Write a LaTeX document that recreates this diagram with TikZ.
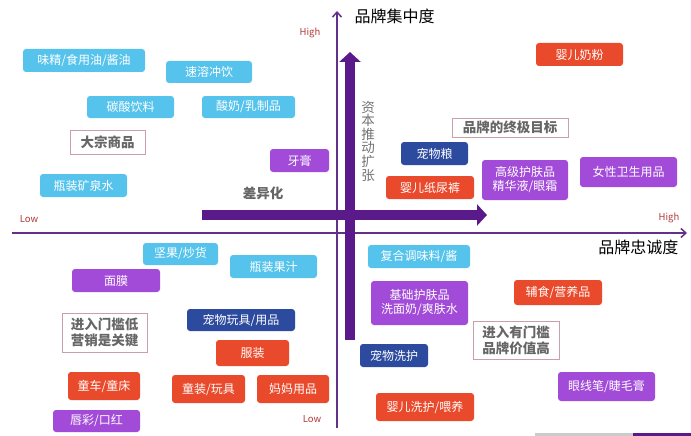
\documentclass[tikz,border=0pt]{standalone}
\usepackage{fontspec}
\setmainfont{Noto Sans CJK SC}
\usetikzlibrary{arrows.meta}
\definecolor{lb}{HTML}{56C3EC}
\definecolor{pp}{HTML}{A24BD8}
\definecolor{db}{HTML}{2C4A9E}
\definecolor{orr}{HTML}{EA4A2C}
\definecolor{axc}{HTML}{62318A}
\definecolor{thk}{HTML}{5A1A8A}
\definecolor{obox}{HTML}{C9A0A8}
\definecolor{hl}{HTML}{B03A3A}
\tikzset{
  cbox/.style={rounded corners=3pt, text=white, inner sep=0pt, align=center,
    font=\fontsize{12}{14}\selectfont},
  obx/.style={draw=obox, line width=0.8pt, inner sep=0pt, align=center, text=black!60,
    font=\fontsize{13.5}{16}\selectfont\bfseries},
  axlab/.style={font=\fontsize{16}{18}\selectfont, text=black},
  hilo/.style={font=\fontsize{9.5}{11}\selectfont, text=hl},
  thinax/.style={draw=axc, line width=1.5pt, -{Straight Barb[length=5pt,width=9pt]}},
  thickar/.style={draw=thk, line width=10pt, -{Triangle[length=10pt,width=21pt]}},
}
\begin{document}
\begin{tikzpicture}[x=1pt,y=-1pt]
\useasboundingbox (0,0) rectangle (691,436);
% axes
\coordinate (yb) at (337,428);
\coordinate (yt) at (337,11);
\coordinate (xl) at (12,233);
\coordinate (xr) at (687,233);
\draw[thinax] (yb) -- (yt);
\draw[thinax] (xl) -- (xr);
% thick arrows
\coordinate (ha) at (202,215);
\coordinate (hb) at (487,215);
\coordinate (va) at (350,340);
\coordinate (vb) at (350,52);
\draw[thickar] (ha) -- (hb);
\draw[thickar] (va) -- (vb);
% axis labels
\node[axlab, anchor=west] (ylab) at (351,16) {品牌集中度};
\node[axlab, anchor=east] (xlab) at (682,247) {品牌忠诚度};
\node[hilo] (hi1) at (310,33) {High};
\node[hilo] (lo1) at (29,219) {Low};
\node[hilo] (hi2) at (669,218) {High};
\node[hilo] (lo2) at (312,419) {Low};
\node[align=center, text=black!55, font=\fontsize{13.5}{13.6}\selectfont] (zb) at (368,141) {资\\本\\推\\动\\扩\\张};
\node[text=black!60, font=\fontsize{13.5}{16}\selectfont\bfseries] (cyh) at (263,193) {差异化};
% light blue
\node[cbox, fill=lb, minimum width=122pt, minimum height=23pt] (n1) at (84,60.5) {味精/食用油/酱油};
\node[cbox, fill=lb, minimum width=86pt, minimum height=22pt] (n2) at (209,72) {速溶冲饮};
\node[cbox, fill=lb, minimum width=87pt, minimum height=22pt] (n3) at (130.5,107) {碳酸饮料};
\node[cbox, fill=lb, minimum width=93pt, minimum height=22pt] (n4) at (248.5,107) {酸奶/乳制品};
\node[cbox, fill=lb, minimum width=87pt, minimum height=23pt] (n5) at (83.5,185.5) {瓶装矿泉水};
\node[cbox, fill=lb, minimum width=75pt, minimum height=22pt] (n6) at (180.5,254) {坚果/炒货};
\node[cbox, fill=lb, minimum width=87pt, minimum height=23pt] (n7) at (273.5,266.5) {瓶装果汁};
\node[cbox, fill=lb, minimum width=102pt, minimum height=23pt] (n8) at (419,256.5) {复合调味料/酱};
% purple
\node[cbox, fill=pp, minimum width=59pt, minimum height=23pt] (p1) at (299.5,160.5) {牙膏};
\node[cbox, fill=pp, minimum width=86pt, minimum height=40pt] (p2) at (525,180) {高级护肤品\\精华液/眼霜};
\node[cbox, fill=pp, minimum width=97pt, minimum height=30pt] (p3) at (628.5,172) {女性卫生用品};
\node[cbox, fill=pp, minimum width=88pt, minimum height=23pt] (p4) at (116,280.5) {面膜};
\node[cbox, fill=pp, minimum width=87pt, minimum height=22pt] (p5) at (96.5,421) {唇彩/口红};
\node[cbox, fill=pp, minimum width=97pt, minimum height=44pt] (p6) at (419.5,303) {基础护肤品\\洗面奶/爽肤水};
\node[cbox, fill=pp, minimum width=97pt, minimum height=29pt] (p7) at (606.5,386.5) {眼线笔/睫毛膏};
% dark blue
\node[cbox, fill=db, minimum width=67pt, minimum height=23pt] (d1) at (434.5,153.5) {宠物粮};
\node[cbox, fill=db, minimum width=108pt, minimum height=22pt] (d2) at (241,320) {宠物玩具/用品};
\node[cbox, fill=db, minimum width=68pt, minimum height=23pt] (d3) at (394,355.5) {宠物洗护};
% orange
\node[cbox, fill=orr, minimum width=87pt, minimum height=23pt] (o1) at (579.5,54.5) {婴儿奶粉};
\node[cbox, fill=orr, minimum width=88pt, minimum height=23pt] (o2) at (430,187.5) {婴儿纸尿裤};
\node[cbox, fill=orr, minimum width=73pt, minimum height=26pt] (o3) at (252.5,353) {服装};
\node[cbox, fill=orr, minimum width=72pt, minimum height=28pt] (o4) at (104,386) {童车/童床};
\node[cbox, fill=orr, minimum width=73pt, minimum height=28pt] (o5) at (208.5,389) {童装/玩具};
\node[cbox, fill=orr, minimum width=72pt, minimum height=28pt] (o6) at (293,389) {妈妈用品};
\node[cbox, fill=orr, minimum width=88pt, minimum height=25pt] (o7) at (558,292.5) {辅食/营养品};
\node[cbox, fill=orr, minimum width=98pt, minimum height=28pt] (o8) at (425,407) {婴儿洗护/喂养};
% outline boxes
\node[obx, minimum width=75pt, minimum height=24pt] (b1) at (107.5,142) {大宗商品};
\node[obx, minimum width=116pt, minimum height=19pt] (b2) at (510,127.5) {品牌的终极目标};
\node[obx, minimum width=85pt, minimum height=39pt] (b3) at (104.5,332.5) {进入门槛低\\营销是关键};
\node[obx, minimum width=86pt, minimum height=38pt] (b4) at (516,340) {进入有门槛\\品牌价值高};
% bottom strip
\fill[black!20] (535,433) rectangle (633,436);
\fill[thk] (633,433) rectangle (691,436);
\end{tikzpicture}
\end{document}
